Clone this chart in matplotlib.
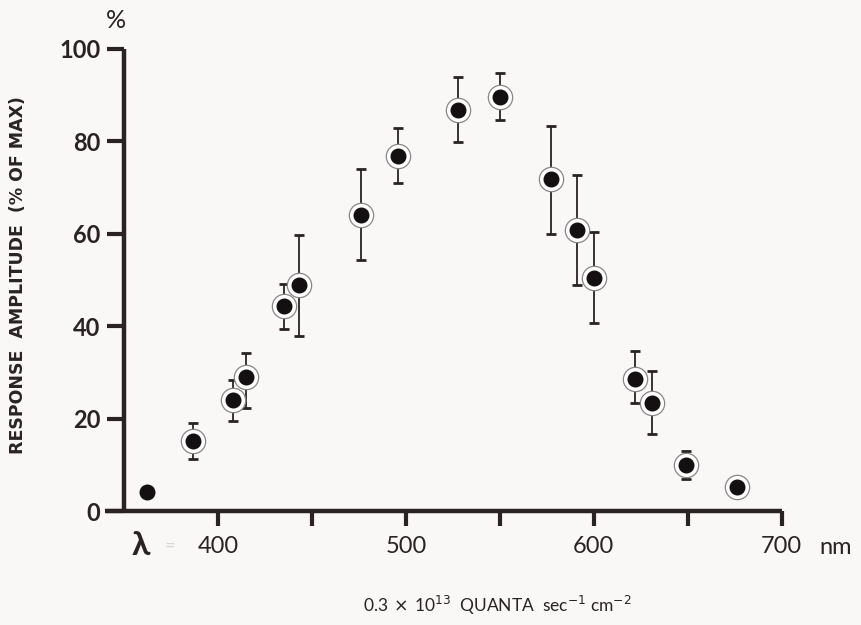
import numpy as np
import matplotlib
matplotlib.use("Agg")
from matplotlib import pyplot as plt
from matplotlib.ticker import FixedLocator

# wavelength (nm), response amplitude (% of max) and error bar ends
wavelength = [362, 387, 408, 415, 435, 443, 476, 496, 528, 550, 577, 591, 600, 622, 631, 649, 676]
response = [4.1, 15.2, 24.0, 29.0, 44.4, 48.9, 64.1, 76.8, 86.8, 89.6, 71.9, 60.8, 50.4, 28.6, 23.4, 10.0, 5.2]
err_high = [np.nan, 19.0, 28.4, 34.2, 49.1, 59.7, 74.0, 82.9, 93.9, 94.8, 83.3, 72.7, 60.4, 34.6, 30.3, 13.0, np.nan]
err_low = [np.nan, 11.3, 19.5, 22.3, 39.4, 37.9, 54.3, 71.0, 79.9, 84.6, 60.0, 48.9, 40.7, 23.4, 16.7, 6.9, np.nan]
ringed = [False] + [True] * 16

x_ticks = [400, 450, 500, 550, 600, 650, 700]
x_labels = ['400', '', '500', '', '600', '', '700']
y_ticks = [0, 20, 40, 60, 80, 100]

ink = '#2a2223'
bg = '#f9f8f6'
plt.rcParams['font.family'] = ['Lato', 'DejaVu Sans']

x = np.array(wavelength, dtype=float)
y = np.array(response)
hi = np.array(err_high)
lo = np.array(err_low)
ring = np.array(ringed)
has_err = ~np.isnan(hi)

fig = plt.figure(figsize=(8.61, 6.25), dpi=100, facecolor=bg)
ax = fig.add_axes([0.1003, 0.1232, 0.895, 0.8576])
ax.set_facecolor(bg)
ax.set_xlim(330, 740)
ax.set_ylim(-8, 108)

# error bars behind the markers
ax.errorbar(x[has_err], y[has_err],
            yerr=[y[has_err] - lo[has_err], hi[has_err] - y[has_err]],
            fmt='none', ecolor=ink, elinewidth=1.3, capsize=3.5, capthick=2, zorder=2)

# open ring round each dot, then the solid dot
ax.plot(x[ring], y[ring], 'o', ms=17.5, mfc='white', mec='#8a8686', mew=0.9, zorder=3)
ax.plot(x, y, 'o', ms=10.5, color='#141011', zorder=4)

# axes in the old hand-drawn style
for s in ['top', 'right']:
    ax.spines[s].set_visible(False)
ax.spines['left'].set_position(('data', 350))
ax.spines['left'].set_bounds(0, 100)
ax.spines['bottom'].set_position(('data', 0))
ax.spines['bottom'].set_bounds(340, 700)
for s in ['left', 'bottom']:
    ax.spines[s].set_linewidth(3.2)
    ax.spines[s].set_color(ink)
    ax.spines[s].set_capstyle('butt')

ax.xaxis.set_major_locator(FixedLocator(x_ticks))
ax.set_xticklabels(x_labels)
ax.yaxis.set_major_locator(FixedLocator(y_ticks))
ax.tick_params(axis='x', direction='out', length=11, width=3, color=ink,
               labelsize=17, labelcolor=ink, pad=7)
ax.tick_params(axis='y', direction='out', length=12, width=3, color=ink,
               labelsize=17, labelcolor=ink, pad=5)
for lab in ax.get_yticklabels():
    lab.set_fontweight('bold')

fig.text(0.952, 0.124, 'nm', fontsize=17, color=ink, ha='left', va='center')
fig.text(0.153, 0.127, 'λ', fontsize=24, fontweight='bold', color=ink, ha='left', va='center')
fig.text(0.197, 0.127, '=', fontsize=13, color='#d8d4d2', ha='center', va='center')
fig.text(0.135, 0.968, '%', fontsize=18, color=ink, ha='center', va='center')

fig.text(0.578, 0.032, r'0.3$\,\times\,$10$^{13}$  QUANTA  sec$^{-1}$ cm$^{-2}$',
         fontsize=12.5, color=ink, ha='center', va='center')
fig.text(0.021, 0.56, 'RESPONSE  AMPLITUDE  (% OF MAX)', rotation=90, fontsize=12.5,
         fontweight='bold', color=ink, ha='center', va='center',
         family=['DejaVu Sans'])

fig.savefig('out.png', dpi=100, facecolor=bg)
